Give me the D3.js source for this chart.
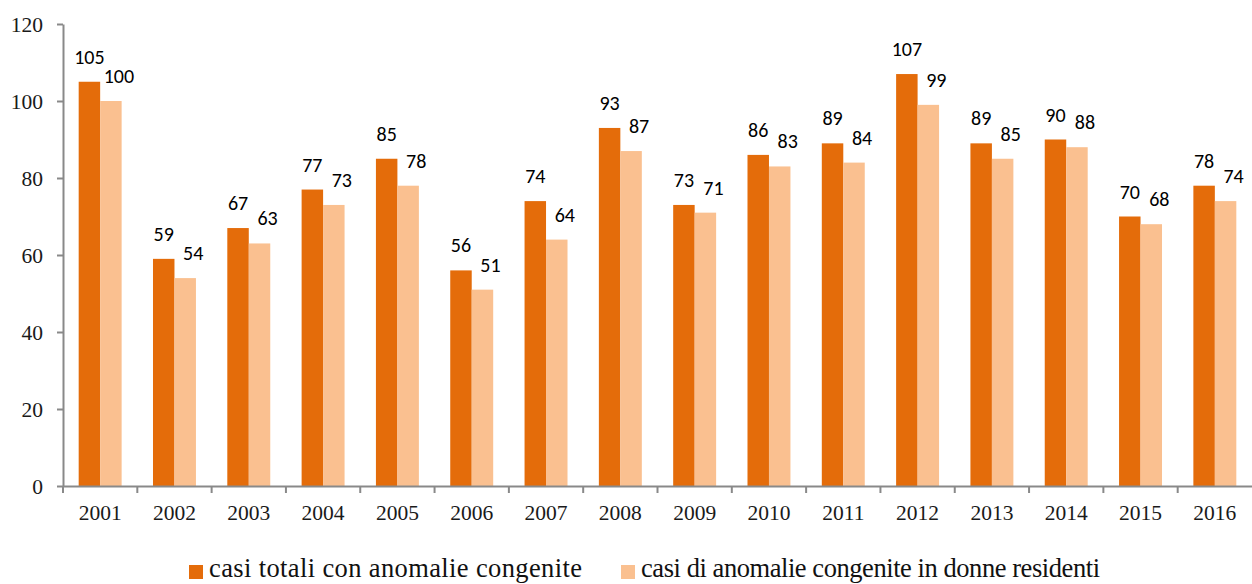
<!DOCTYPE html>
<html>
<head>
<meta charset="utf-8">
<script src="https://cdn.jsdelivr.net/npm/d3@7"></script>
<style>
  body { margin: 0; background: #fff; }
  svg { display: block; }
</style>
</head>
<body>
<script>
// dati
const anni = ["2001", "2002", "2003", "2004", "2005", "2006", "2007", "2008",
  "2009", "2010", "2011", "2012", "2013", "2014", "2015", "2016"];
const casiTotali = [105, 59, 67, 77, 85, 56, 74, 93, 73, 86, 89, 107, 89, 90, 70, 78];
const casiResidenti = [100, 54, 63, 73, 78, 51, 64, 87, 71, 83, 84, 99, 85, 88, 68, 74];
const yTicks = [0, 20, 40, 60, 80, 100, 120];
const serie = [
  { nome: "casi totali con anomalie congenite", valori: casiTotali, colore: "#E46C0A" },
  { nome: "casi di anomalie congenite in donne residenti", valori: casiResidenti, colore: "#FAC090" }
];

const width = 1252, height = 584;
const axisColor = "#898989";
const serif = "'Liberation Serif', 'Times New Roman', serif";

const svg = d3.select("body").append("svg")
  .attr("width", width)
  .attr("height", height);

const x = d3.scaleBand().domain(anni).range([63, 1252]).padding(0);
const xs = d3.scaleBand().domain([0, 1]).range([0, x.bandwidth()]).paddingInner(0).paddingOuter(0.73);
const y = d3.scaleLinear().domain([0, 120]).range([486, 24]);

// barre + etichette
serie.forEach((s, si) => {
  svg.append("g")
    .selectAll("rect")
    .data(s.valori)
    .enter()
    .append("rect")
    .attr("x", (d, i) => x(anni[i]) + xs(si))
    .attr("y", d => y(d))
    .attr("width", xs.bandwidth())
    .attr("height", d => y(0) - y(d))
    .attr("fill", s.colore);

  svg.append("g")
    .selectAll("text")
    .data(s.valori)
    .enter()
    .append("text")
    .attr("x", (d, i) => x(anni[i]) + xs(si) + xs.bandwidth() / 2 + (si === 1 ? 8 : 0))
    .attr("y", d => y(d) - 18)
    .attr("text-anchor", "middle")
    .style("font-family", "Carlito, 'Open Sans', sans-serif")
    .style("font-size", "20px")
    .style("fill", "#000")
    .text(d => d);
});

// asse y
const yAxis = svg.append("g")
  .attr("transform", "translate(63,0)")
  .call(d3.axisLeft(y).tickValues(yTicks).tickSize(6).tickSizeOuter(0).tickPadding(14));
yAxis.select(".domain").attr("stroke", axisColor).attr("stroke-width", 2);
yAxis.selectAll(".tick line").attr("stroke", axisColor).attr("stroke-width", 2);
yAxis.selectAll(".tick text")
  .attr("dy", "0.33em")
  .style("font-family", serif)
  .style("font-size", "21.5px")
  .style("fill", "#1a1a1a");

// asse x
const xAxis = svg.append("g")
  .attr("transform", "translate(0,486)")
  .call(d3.axisBottom(x).tickSize(0).tickSizeOuter(0));
xAxis.select(".domain").attr("stroke", axisColor).attr("stroke-width", 2);
xAxis.selectAll(".tick text")
  .attr("y", 34)
  .attr("dy", 0)
  .style("font-family", serif)
  .style("font-size", "21.5px")
  .style("fill", "#1a1a1a");

// tacche tra le categorie
svg.append("g")
  .selectAll("line")
  .data(anni)
  .enter()
  .append("line")
  .attr("x1", d => x(d))
  .attr("x2", d => x(d))
  .attr("y1", 486)
  .attr("y2", 493)
  .attr("stroke", axisColor)
  .attr("stroke-width", 2);

// legenda
const legendX = [189, 621];
const legendLen = [373, 459];
const legend = svg.append("g");
serie.forEach((s, i) => {
  legend.append("rect")
    .attr("x", legendX[i])
    .attr("y", 565)
    .attr("width", 14)
    .attr("height", 14)
    .attr("fill", s.colore);
  legend.append("text")
    .attr("x", legendX[i] + 20)
    .attr("y", 577)
    .attr("textLength", legendLen[i])
    .attr("lengthAdjust", "spacing")
    .style("font-family", serif)
    .style("font-size", "26.5px")
    .style("fill", "#111")
    .text(s.nome);
});
</script>
</body>
</html>
